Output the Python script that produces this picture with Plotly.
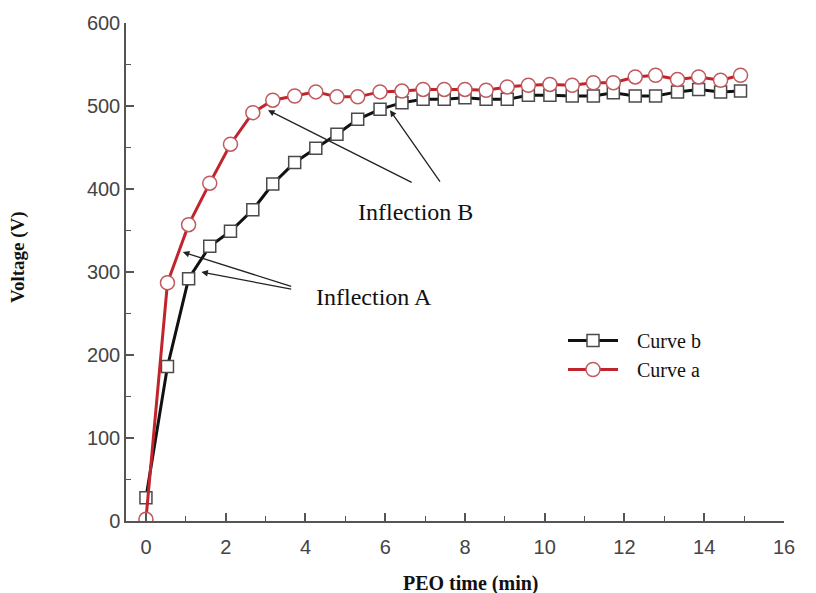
import plotly.graph_objects as go

# PEO time (min) of each sampled point
time_min = [0, 0.54, 1.07, 1.60, 2.12, 2.68, 3.18, 3.73, 4.26, 4.79, 5.31, 5.87,
            6.42, 6.95, 7.48, 8.00, 8.53, 9.06, 9.59, 10.13, 10.69, 11.22, 11.72,
            12.27, 12.78, 13.33, 13.86, 14.41, 14.91]

# Voltage (V)
curve_a = [2, 287, 357, 407, 454, 492, 507, 512, 517, 511, 511, 517, 518, 520,
           520, 520, 519, 523, 525, 526, 525, 528, 528, 535, 537, 532, 535, 531, 537]
curve_b = [28, 186, 292, 331, 349, 375, 406, 432, 449, 466, 484, 496, 504, 508,
           508, 510, 508, 508, 513, 513, 512, 512, 516, 512, 512, 517, 520, 517, 518]

x_ticks = [0, 2, 4, 6, 8, 10, 12, 14, 16]
y_ticks = [0, 100, 200, 300, 400, 500, 600]

serif = "Liberation Serif, Times New Roman, serif"
sans = "Liberation Sans, Arial, sans-serif"

W, H = 816, 593
L, R, T, B = 126, 32, 23, 72
pw, ph = W - L - R, H - T - B


def px_to_paper(sx, sy):
    return (sx - L) / pw, (H - B - sy) / ph


fig = go.Figure()
fig.add_trace(go.Scatter(
    x=time_min, y=curve_b, name="\u2002\u2009Curve b", mode="lines+markers",
    line=dict(color="#111111", width=3),
    marker=dict(symbol="square", size=12, color="white",
                line=dict(color="#4a4a4a", width=1.5)),
))
fig.add_trace(go.Scatter(
    x=time_min, y=curve_a, name="\u2002\u2009Curve a", mode="lines+markers",
    line=dict(color="#c0242c", width=3),
    marker=dict(symbol="circle", size=14, color="white",
                line=dict(color="#c05a5e", width=1.5)),
))

arrow = dict(xref="x", yref="y", axref="x", ayref="y", showarrow=True,
             arrowhead=2, arrowsize=1, arrowwidth=1.3, arrowcolor="#222222", text="")
ann = [
    dict(x=0.925, y=324, ax=3.68, ay=282, **arrow),
    dict(x=1.39, y=300, ax=3.68, ay=279, **arrow),
    dict(x=3.06, y=495, ax=6.70, ay=407, **arrow),
    dict(x=6.12, y=495, ax=7.40, ay=407, **arrow),
    dict(x=5.72, y=270, xref="x", yref="y", text="Inflection A", showarrow=False,
         font=dict(family=serif, size=24, color="#111111")),
    dict(x=6.75, y=372, xref="x", yref="y", text="Inflection B", showarrow=False,
         font=dict(family=serif, size=24, color="#111111")),
]
xt, yt = px_to_paper(471, 583)
ann.append(dict(x=xt, y=yt, xref="paper", yref="paper", xanchor="center", yanchor="middle",
                text="<b>PEO time (min)</b>", showarrow=False,
                font=dict(family=serif, size=20, color="#111111")))
xv, yv = px_to_paper(18, 257)
ann.append(dict(x=xv, y=yv, xref="paper", yref="paper", xanchor="center", yanchor="middle",
                text="<b>Voltage (V)</b>", textangle=-90, showarrow=False,
                font=dict(family=serif, size=19, color="#111111")))

lx, ly = px_to_paper(563, 321)
fig.update_layout(
    width=W, height=H,
    margin=dict(l=L, r=R, t=T, b=B),
    paper_bgcolor="white", plot_bgcolor="white",
    showlegend=True,
    legend=dict(x=lx, y=ly, xanchor="left", yanchor="top",
                font=dict(family=serif, size=20, color="#111111"),
                bgcolor="rgba(0,0,0,0)", itemwidth=50, tracegroupgap=0,
                traceorder="normal"),
    annotations=ann,
)
fig.update_xaxes(
    range=[-0.5, 16], tickvals=x_ticks,
    showgrid=False, zeroline=False,
    showline=True, linecolor="#555555", linewidth=1.5,
    ticks="inside", ticklen=8, tickwidth=1.5, tickcolor="#555555",
    minor=dict(dtick=1, tick0=1, ticks="inside", ticklen=5, tickwidth=1.2, tickcolor="#555555"),
    tickfont=dict(family=sans, size=20, color="#444444"),
    ticklabelstandoff=7,
)
fig.update_yaxes(
    range=[0, 600], tickvals=y_ticks, showgrid=False, zeroline=False,
    showline=True, linecolor="#555555", linewidth=1.5,
    ticks="inside", ticklen=8, tickwidth=1.5, tickcolor="#555555",
    minor=dict(dtick=50, tick0=50, ticks="inside", ticklen=5, tickwidth=1.2, tickcolor="#555555"),
    tickfont=dict(family=sans, size=20, color="#444444"),
)
fig.write_html("out.html", config={"displayModeBar": False},
               post_script="document.body.style.margin='0px';")
